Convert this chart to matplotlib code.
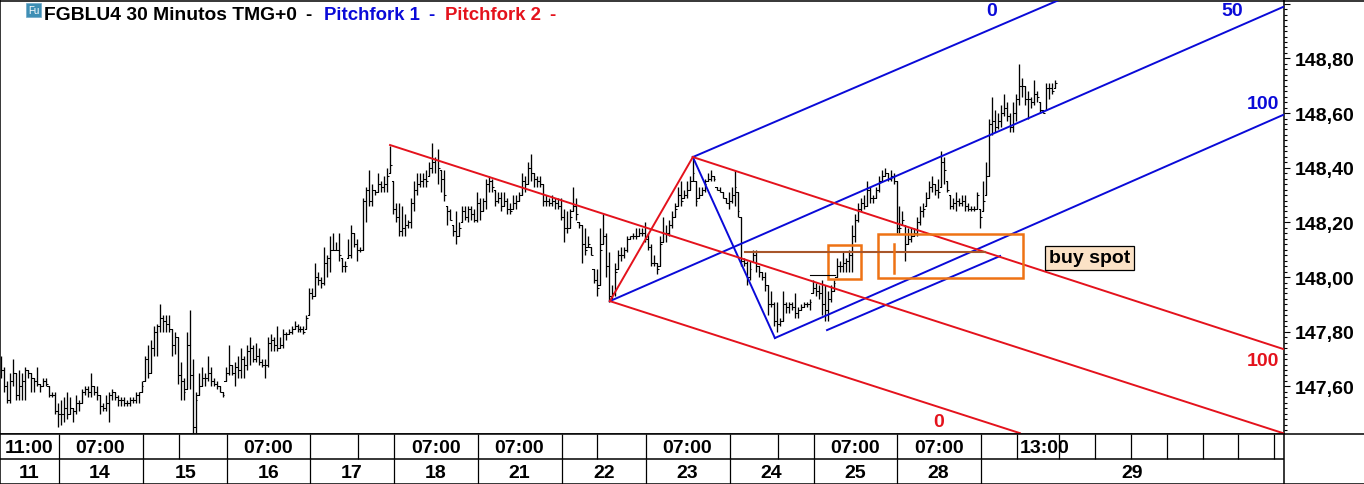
import matplotlib
matplotlib.use("Agg")
import matplotlib.pyplot as plt
from matplotlib.lines import Line2D
from matplotlib.patches import Rectangle

highs = [
    147.71,147.67,147.62,147.65,147.70,147.65,147.66,147.65,147.67,147.66,
    147.65,147.63,147.67,147.61,147.63,147.63,147.60,147.58,147.58,147.54,
    147.55,147.56,147.58,147.56,147.52,147.57,147.55,147.59,147.60,147.60,
    147.65,147.60,147.60,147.57,147.54,147.57,147.58,147.59,147.58,147.57,
    147.56,147.56,147.55,147.56,147.56,147.58,147.58,147.62,147.71,147.75,
    147.77,147.82,147.83,147.90,147.86,147.86,147.86,147.81,147.80,147.78,
    147.69,147.63,147.80,147.88,147.70,147.58,147.65,147.67,147.65,147.71,
    147.67,147.63,147.62,147.60,147.58,147.67,147.75,147.68,147.69,147.71,
    147.74,147.71,147.75,147.78,147.75,147.76,147.74,147.70,147.70,147.78,
    147.79,147.78,147.82,147.78,147.81,147.80,147.81,147.82,147.84,147.83,
    147.82,147.82,147.86,147.96,147.96,148.05,148.02,148.00,148.11,148.08,
    148.15,148.16,148.13,148.16,148.07,148.06,148.14,148.19,148.16,148.14,
    148.11,148.29,148.33,148.39,148.34,148.32,148.38,148.35,148.37,148.40,
    148.48,148.35,148.27,148.27,148.26,148.23,148.21,148.29,148.35,148.38,
    148.38,148.38,148.39,148.42,148.49,148.44,148.47,148.39,148.39,148.26,
    148.25,148.19,148.24,148.20,148.26,148.26,148.26,148.26,148.25,148.31,
    148.29,148.29,148.36,148.37,148.36,148.32,148.31,148.31,148.31,148.29,
    148.27,148.30,148.30,148.31,148.38,148.37,148.42,148.45,148.38,148.37,
    148.37,148.34,148.30,148.29,148.30,148.29,148.29,148.29,148.25,148.24,
    148.25,148.33,148.29,148.20,148.19,148.18,148.15,148.11,148.03,148.03,
    148.18,148.23,148.16,148.09,147.97,148.05,148.10,148.11,148.11,148.15,
    148.15,148.16,148.18,148.18,148.18,148.20,148.16,148.12,148.08,148.05,
    148.15,148.22,148.19,148.21,148.24,148.27,148.33,148.35,148.32,148.35,
    148.37,148.44,148.35,148.33,148.33,148.36,148.38,148.39,148.37,148.33,
    148.33,148.31,148.29,148.31,148.33,148.39,148.31,148.22,148.07,148.06,
    148.06,148.10,148.10,148.04,148.02,148.02,147.97,147.95,147.91,147.91,
    147.85,147.95,147.91,147.91,147.91,147.94,147.89,147.90,147.91,147.91,
    147.92,147.99,147.98,147.97,147.99,147.97,147.95,147.97,147.99,148.07,
    148.06,148.09,148.07,148.10,148.19,148.23,148.27,148.29,148.30,148.35,
    148.33,148.30,148.33,148.37,148.39,148.40,148.38,148.39,148.38,148.35,
    148.26,148.24,148.19,148.18,148.18,148.18,148.22,148.26,148.27,148.31,
    148.35,148.37,148.34,148.36,148.46,148.44,148.35,148.30,148.29,148.31,
    148.29,148.30,148.30,148.27,148.26,148.26,148.31,148.25,148.35,148.42,
    148.58,148.66,148.61,148.60,148.63,148.67,148.64,148.60,148.64,148.67,
    148.78,148.73,148.70,148.68,148.66,148.72,148.68,148.64,148.61,148.71,
    148.71,148.71,148.72,
]
lows = [
    147.63,147.58,147.54,147.54,147.60,147.55,147.55,147.55,147.55,147.63,
    147.58,147.58,147.60,147.58,147.60,147.60,147.56,147.56,147.50,147.45,
    147.46,147.47,147.48,147.50,147.47,147.50,147.51,147.54,147.57,147.56,
    147.56,147.57,147.55,147.50,147.51,147.51,147.47,147.55,147.55,147.53,
    147.53,147.53,147.53,147.53,147.54,147.54,147.54,147.58,147.62,147.63,
    147.65,147.71,147.71,147.80,147.80,147.80,147.80,147.71,147.72,147.61,
    147.55,147.55,147.59,147.59,147.43,147.43,147.57,147.60,147.60,147.62,
    147.60,147.60,147.59,147.58,147.56,147.62,147.64,147.64,147.60,147.63,
    147.63,147.63,147.66,147.68,147.69,147.69,147.68,147.67,147.63,147.67,
    147.73,147.73,147.73,147.74,147.74,147.77,147.79,147.79,147.81,147.80,
    147.80,147.79,147.81,147.86,147.92,147.93,147.97,147.96,147.97,148.00,
    148.02,148.10,148.10,148.06,148.02,148.02,148.07,148.07,148.11,148.06,
    148.09,148.10,148.20,148.26,148.26,148.30,148.31,148.31,148.31,148.31,
    148.38,148.23,148.20,148.15,148.15,148.15,148.18,148.18,148.24,148.30,
    148.33,148.33,148.33,148.37,148.38,148.38,148.34,148.31,148.28,148.19,
    148.21,148.15,148.12,148.15,148.20,148.21,148.20,148.21,148.20,148.20,
    148.21,148.24,148.25,148.31,148.31,148.26,148.27,148.24,148.26,148.23,
    148.23,148.25,148.25,148.28,148.30,148.31,148.34,148.35,148.33,148.33,
    148.33,148.26,148.26,148.26,148.26,148.25,148.25,148.21,148.13,148.16,
    148.18,148.24,148.21,148.18,148.05,148.08,148.11,148.08,147.98,147.93,
    147.97,148.12,148.00,147.91,147.92,147.93,148.03,148.06,148.07,148.09,
    148.14,148.14,148.14,148.15,148.15,148.13,148.10,148.04,148.04,148.01,
    148.04,148.13,148.13,148.15,148.18,148.22,148.26,148.26,148.29,148.29,
    148.32,148.35,148.26,148.29,148.30,148.31,148.35,148.35,148.35,148.32,
    148.31,148.29,148.27,148.25,148.27,148.26,148.22,148.04,148.04,147.97,
    147.99,148.06,148.02,148.00,147.99,147.95,147.86,147.89,147.82,147.80,
    147.82,147.84,147.87,147.87,147.88,147.85,147.85,147.88,147.89,147.89,
    147.88,147.94,147.93,147.92,147.86,147.84,147.84,147.91,147.95,148.00,
    148.02,148.02,148.02,148.02,148.02,148.13,148.20,148.24,148.25,148.26,
    148.27,148.27,148.29,148.31,148.35,148.37,148.35,148.35,148.34,148.16,
    148.16,148.19,148.06,148.12,148.13,148.15,148.15,148.19,148.22,148.26,
    148.29,148.31,148.30,148.29,148.33,148.34,148.31,148.25,148.25,148.24,
    148.26,148.26,148.24,148.24,148.24,148.24,148.25,148.18,148.24,148.30,
    148.37,148.52,148.53,148.54,148.55,148.59,148.57,148.53,148.53,148.57,
    148.63,148.66,148.63,148.58,148.62,148.63,148.64,148.60,148.60,148.61,
    148.65,148.67,148.69,
]
closes = [
    147.66,147.60,147.55,147.62,147.65,147.57,147.60,147.62,147.66,147.65,
    147.63,147.62,147.61,147.60,147.62,147.61,147.57,147.57,147.51,147.50,
    147.50,147.52,147.50,147.52,147.51,147.54,147.54,147.58,147.59,147.58,
    147.60,147.58,147.57,147.53,147.52,147.54,147.57,147.58,147.56,147.55,
    147.55,147.54,147.54,147.55,147.55,147.57,147.58,147.60,147.70,147.65,
    147.74,147.80,147.82,147.85,147.84,147.83,147.81,147.75,147.78,147.64,
    147.62,147.58,147.75,147.64,147.45,147.55,147.60,147.63,147.63,147.65,
    147.62,147.61,147.60,147.58,147.57,147.65,147.68,147.65,147.67,147.66,
    147.70,147.68,147.73,147.74,147.70,147.71,147.69,147.68,147.68,147.76,
    147.77,147.75,147.74,147.75,147.79,147.79,147.80,147.81,147.82,147.81,
    147.81,147.80,147.85,147.94,147.93,148.00,147.99,147.98,148.05,148.07,
    148.10,148.10,148.10,148.08,148.04,148.04,148.08,148.16,148.12,148.10,
    148.10,148.28,148.32,148.28,148.32,148.31,148.34,148.33,148.34,148.37,
    148.41,148.25,148.22,148.17,148.18,148.19,148.20,148.27,148.32,148.34,
    148.35,148.36,148.35,148.40,148.42,148.43,148.40,148.36,148.30,148.24,
    148.21,148.17,148.15,148.18,148.24,148.22,148.25,148.23,148.21,148.27,
    148.24,148.28,148.34,148.35,148.33,148.28,148.29,148.26,148.28,148.25,
    148.24,148.27,148.28,148.30,148.35,148.34,148.40,148.38,148.36,148.35,
    148.34,148.28,148.28,148.27,148.28,148.27,148.26,148.22,148.18,148.18,
    148.22,148.26,148.23,148.19,148.12,148.10,148.12,148.08,147.99,147.96,
    148.10,148.15,148.04,147.93,147.94,148.02,148.08,148.08,148.10,148.14,
    148.15,148.15,148.15,148.16,148.16,148.14,148.11,148.05,148.05,148.03,
    148.12,148.16,148.16,148.19,148.22,148.25,148.30,148.28,148.30,148.32,
    148.35,148.38,148.28,148.30,148.32,148.34,148.36,148.37,148.36,148.32,
    148.31,148.29,148.27,148.28,148.30,148.33,148.24,148.06,148.05,148.00,
    148.03,148.08,148.04,148.02,148.00,147.97,147.90,147.90,147.84,147.83,
    147.84,147.90,147.89,147.90,147.89,147.87,147.88,147.89,147.90,147.90,
    147.91,147.96,147.95,147.94,147.90,147.88,147.92,147.95,147.98,148.04,
    148.04,148.05,148.06,148.08,148.15,148.21,148.25,148.27,148.26,148.32,
    148.29,148.29,148.32,148.35,148.37,148.38,148.36,148.37,148.35,148.18,
    148.18,148.21,148.12,148.14,148.15,148.16,148.20,148.24,148.25,148.29,
    148.33,148.34,148.32,148.31,148.42,148.39,148.32,148.26,148.27,148.28,
    148.27,148.28,148.26,148.25,148.25,148.25,148.30,148.22,148.28,148.37,
    148.56,148.57,148.55,148.57,148.60,148.62,148.59,148.55,148.60,148.65,
    148.70,148.70,148.65,148.65,148.64,148.67,148.66,148.61,148.60,148.69,
    148.69,148.68,148.71,
]

# pitchfork pivots and ends, (bar, price)
blue_upper = [(231.0, 148.439), (354.0, 149.017)]
blue_median = [(203.3, 147.912), (428.06, 148.988)]
blue_lower = [(258.4, 147.777), (428.06, 148.593)]
blue_short = [(275.8, 147.806), (333.6, 148.077)]
blue_leg = [(231.0, 148.439), (258.4, 147.777)]
red_upper = [(231.0, 148.439), (428.06, 147.737)]
red_median = [(129.9, 148.483), (428.06, 147.429)]
red_lower = [(203.3, 147.912), (340.2, 147.429)]
red_leg = [(203.3, 147.912), (231.0, 148.439)]

price_ticks = [147.6, 147.8, 148.0, 148.2, 148.4, 148.6, 148.8]

time_seps = [19.4, 47.4, 59.4, 75.5, 103.2, 119.2, 131.2, 159.3, 187.3, 199.0, 215.4,
             243.4, 259.4, 271.5, 299.2, 327.2, 339.2, 353.3, 365.3, 377.3, 389.3,
             401.3, 413.0, 425.0]
day_seps = [19.4, 47.4, 75.5, 103.2, 131.2, 159.3, 187.3, 215.4, 243.4, 271.5, 299.2, 327.2]
time_labels = [("11:00", 9.3), ("07:00", 33.0), ("07:00", 89.2), ("07:00", 145.2), ("07:00", 173.0),
               ("07:00", 229.0), ("07:00", 285.2), ("07:00", 313.2), ("13:00", 348.3)]
day_labels = [("11", 9.3), ("14", 33.0), ("15", 61.5), ("16", 89.5), ("17", 117.2), ("18", 145.2),
              ("21", 173.0), ("22", 201.3), ("23", 229.0), ("24", 257.1), ("25", 285.2),
              ("28", 313.0), ("29", 377.7)]

W, H = 1364, 485
BAR_W = 2.995
xmin = -1 / BAR_W
xmax = 1283 / BAR_W
BLUE = "#0a0ad8"
RED = "#e4121c"
ORANGE = "#ee7214"

fig = plt.figure(figsize=(W / 100, H / 100), dpi=100, facecolor="white")
plt.rcParams["font.family"] = ["Liberation Sans", "DejaVu Sans"]

ax = fig.add_axes([0, (H - 434.5) / H, 1284 / W, 433 / H])
ax.set_xlim(xmin, xmax)
ax.set_ylim(147.4277, 149.0117)
for s in ["left", "right", "top", "bottom"]:
    ax.spines[s].set_linewidth(1.1)
    ax.spines[s].set_color("black")

# OHLC bars, open tick taken from the previous close
xs = list(range(len(highs)))
ax.vlines(xs, lows, highs, color="black", lw=0.95, zorder=2)
ax.hlines(closes, xs, [x + 0.55 for x in xs], color="black", lw=0.75, zorder=2)
for i in xs[1:]:
    op = max(lows[i], min(highs[i], closes[i - 1]))
    ax.plot([i - 0.55, i], [op, op], color="black", lw=0.75, zorder=2)

for seg in [blue_upper, blue_median, blue_lower, blue_short, blue_leg]:
    ax.plot(*zip(*seg), color=BLUE, lw=1.4, zorder=3)
for seg in [red_upper, red_median, red_lower, red_leg]:
    ax.plot(*zip(*seg), color=RED, lw=1.4, zorder=3)

# buy zone markup
ax.add_patch(Rectangle((276.1, 147.993), 11.0, 0.124, fill=False, ec=ORANGE, lw=1.8, zorder=4))
ax.add_patch(Rectangle((292.8, 147.996), 48.4, 0.163, fill=False, ec=ORANGE, lw=1.8, zorder=4))
ax.plot([248.4, 328.5], [148.091, 148.091], color="#a8562a", lw=1.5, zorder=4)
ax.plot([298.2, 298.2], [148.015, 148.121], color=ORANGE, lw=1.8, zorder=4)
ax.plot([270.1, 278.5], [148.007, 148.007], color="black", lw=0.8, zorder=4)

ax.set_xticks([])
ax.yaxis.tick_right()
ax.set_yticks(price_ticks + [149.0])
ax.set_yticklabels([f"{p:.2f}".replace(".", ",") for p in price_ticks] + [""],
                   fontsize=14, fontweight="bold")
ax.set_yticks([147.44 + 0.02 * k for k in range(79)], minor=True)
ax.tick_params(axis="y", which="major", length=4.5, width=0.8, pad=3)
ax.tick_params(axis="y", which="minor", length=2, width=0.8)

lab = dict(fontsize=14, fontweight="bold", ha="center", va="center", zorder=5)
ax.text(330.6, 148.975, "0", color=BLUE, **lab)
ax.text(411.0, 148.975, "50", color=BLUE, **lab)
ax.text(421.4, 148.635, "100", color=BLUE, **lab)
ax.text(421.4, 147.695, "100", color=RED, **lab)
ax.text(313.2, 147.47, "0", color=RED, **lab)
ax.text(363.6, 148.07, "buy spot", fontsize=14, fontweight="bold", ha="center", va="center",
        zorder=5, bbox=dict(boxstyle="square,pad=0.2", fc="#fbe2c6", ec="black", lw=0.9))

# time and date rows
tx = fig.add_axes([0, 0.5 / H, 1, 50 / H])
tx.set_xlim(xmin, (W - 1) / BAR_W)
tx.set_ylim(0, 2)
tx.set_xticks([])
tx.set_yticks([])
for s in ["right"]:
    tx.spines[s].set_visible(False)
for s in ["left", "top", "bottom"]:
    tx.spines[s].set_linewidth(1.1)
tx.hlines(1, xmin, xmax, color="black", lw=1.1)
tx.vlines(xmax, 0, 2, color="black", lw=1.1)
tx.vlines(time_seps, 1, 2, color="black", lw=0.9, zorder=4)
tx.vlines(day_seps, 0, 1, color="black", lw=0.9)
for t, x in time_labels:
    tx.text(x, 1.44, t, fontsize=14, fontweight="bold", ha="center", va="center")
for t, x in day_labels:
    tx.text(x, 0.44, t, fontsize=14, fontweight="bold", ha="center", va="center")

# top line carries on past the price axis
fig.add_artist(Line2D([1284 / W, 1], [1 - 1.5 / H, 1 - 1.5 / H], color="black", lw=1.1))

# legend header
fig.add_artist(Rectangle((26 / W, 1 - 18 / H), 15 / W, 14 / H, fc="#3f8fb5", ec="#6fa8c8", lw=0.5,
                         transform=fig.transFigure))
fig.text(33.5 / W, 1 - 11 / H, "Fu", color="white", fontsize=7, ha="center", va="center")
y_head = 1 - 16 / H
head = dict(fontweight="bold", va="center", ha="left")
fig.text(44 / W, y_head, "FGBLU4 30 Minutos TMG+0", color="black", fontsize=13.9, **head)
fig.text(305 / W, y_head, "-", color="black", fontsize=13.5, **head)
fig.text(324 / W, y_head, "Pitchfork 1", color=BLUE, fontsize=13.4, **head)
fig.text(428 / W, y_head, "-", color=BLUE, fontsize=13.5, **head)
fig.text(445 / W, y_head, "Pitchfork 2", color=RED, fontsize=13.4, **head)
fig.text(549 / W, y_head, "-", color=RED, fontsize=13.5, **head)

fig.savefig("out.png", dpi=100)
